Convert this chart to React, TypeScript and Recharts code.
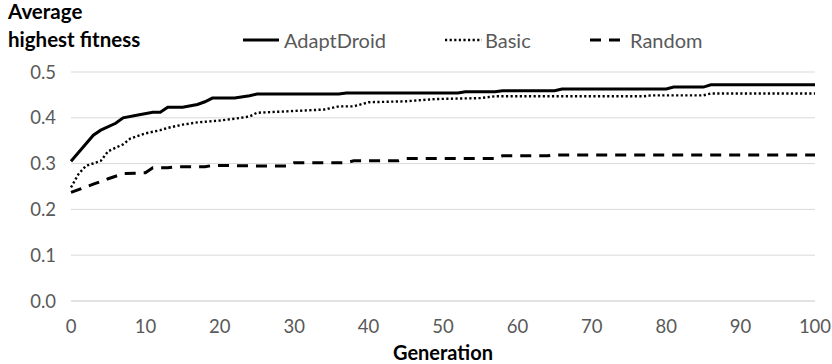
import { LineChart, Line, XAxis, YAxis, CartesianGrid } from 'recharts';

const X_TICKS = [0, 10, 20, 30, 40, 50, 60, 70, 80, 90, 100];
const Y_TICKS = [0, 0.1, 0.2, 0.3, 0.4, 0.5];

const ADAPT_GEN = [0, 3, 4, 6, 7, 9, 11, 12, 13, 15, 17, 18, 19, 22, 24, 25, 36, 37, 52, 53, 57, 58, 65, 66, 80, 81, 85, 86, 100];
const ADAPT_VAL = [0.305, 0.362, 0.373, 0.388, 0.4, 0.406, 0.412, 0.412, 0.423, 0.423, 0.429, 0.435, 0.443, 0.443, 0.448, 0.452, 0.452, 0.454, 0.454, 0.457, 0.457, 0.459, 0.459, 0.463, 0.463, 0.467, 0.467, 0.472, 0.472];

const BASIC_GEN = [0, 1, 2, 4, 5, 7, 8, 10, 12, 13, 15, 17, 20, 22, 24, 25, 34, 36, 38, 40, 45, 49, 55, 57, 77, 78, 85, 86, 100];
const BASIC_VAL = [0.248, 0.277, 0.295, 0.306, 0.327, 0.342, 0.355, 0.366, 0.373, 0.378, 0.385, 0.39, 0.394, 0.398, 0.403, 0.411, 0.418, 0.425, 0.425, 0.434, 0.436, 0.441, 0.443, 0.447, 0.447, 0.449, 0.449, 0.453, 0.453];

const RANDOM_GEN = [0, 3, 5, 7, 10, 11, 13, 14, 18, 19, 25, 29, 30, 37, 38, 44, 45, 57, 58, 64, 65, 100];
const RANDOM_VAL = [0.237, 0.255, 0.267, 0.278, 0.28, 0.291, 0.291, 0.293, 0.293, 0.296, 0.295, 0.295, 0.302, 0.302, 0.306, 0.306, 0.311, 0.311, 0.317, 0.317, 0.319, 0.319];

const toPoints = (gens: number[], vals: number[]) => gens.map((g, i) => ({ gen: g, value: vals[i] }));

const SERIES = [
  { name: 'AdaptDroid', data: toPoints(ADAPT_GEN, ADAPT_VAL), width: 3, dash: undefined as string | undefined },
  { name: 'Basic', data: toPoints(BASIC_GEN, BASIC_VAL), width: 2.4, dash: '2.2 2.4' },
  { name: 'Random', data: toPoints(RANDOM_GEN, RANDOM_VAL), width: 3, dash: '11 8' },
];

const FONT = 'Lato, "Open Sans", sans-serif';
const GREY = '#595959';

// legend drawn as plain html so it doesn't push the plot area down
function LegendRow() {
  const items = [
    { name: 'AdaptDroid', x: 243, w: 36, gap: 5 },
    { name: 'Basic', x: 445, w: 37, gap: 3 },
    { name: 'Random', x: 590, w: 33, gap: 7 },
  ];
  return (
    <>
      {items.map((it, i) => (
        <div key={it.name} style={{ position: 'absolute', left: it.x, top: 28, height: 24, display: 'flex', alignItems: 'center' }}>
          <svg width={it.w} height={10}>
            <line x1={0} y1={5} x2={it.w} y2={5} stroke="#000" strokeWidth={SERIES[i].width}
              strokeDasharray={SERIES[i].dash} />
          </svg>
          <span style={{ marginLeft: it.gap, fontFamily: FONT, fontSize: 20, color: GREY }}>{it.name}</span>
        </div>
      ))}
    </>
  );
}

export default function App() {
  return (
    <div style={{ position: 'absolute', left: 0, top: 0, width: 832, height: 364, background: '#fff' }}>
      <div style={{ position: 'absolute', left: 8, top: -3, fontFamily: FONT, fontWeight: 'bold', fontSize: 20.5, lineHeight: '28px', color: '#000' }}>
        Average<br />highest fitness
      </div>
      <LegendRow />
      <LineChart width={832} height={364} margin={{ top: 72, right: 17, bottom: 0, left: 0 }}>
        <CartesianGrid horizontal vertical={false} stroke="#d9d9d9" strokeWidth={1} />
        <XAxis
          type="number"
          dataKey="gen"
          domain={[0, 100]}
          ticks={X_TICKS}
          axisLine={{ stroke: '#d9d9d9' }}
          tickLine={false}
          tick={{ fill: GREY, fontSize: 18.5, fontFamily: FONT }}
          tickMargin={13}
          label={{ value: 'Generation', position: 'insideBottom', offset: 4, fill: '#000', fontSize: 20, fontWeight: 'bold', fontFamily: FONT }}
          height={63}
        />
        <YAxis
          type="number"
          domain={[0, 0.5]}
          ticks={Y_TICKS}
          axisLine={false}
          tickLine={false}
          width={71}
          tickFormatter={(v: number) => v.toFixed(1)}
          tick={{ fill: GREY, fontSize: 18.5, fontFamily: FONT }}
          tickMargin={9}
        />
        {SERIES.map((s) => (
          <Line
            key={s.name}
            data={s.data}
            dataKey="value"
            name={s.name}
            type="linear"
            stroke="#000"
            strokeWidth={s.width}
            strokeDasharray={s.dash}
            dot={false}
            activeDot={false}
            isAnimationActive={false}
          />
        ))}
      </LineChart>
    </div>
  );
}
